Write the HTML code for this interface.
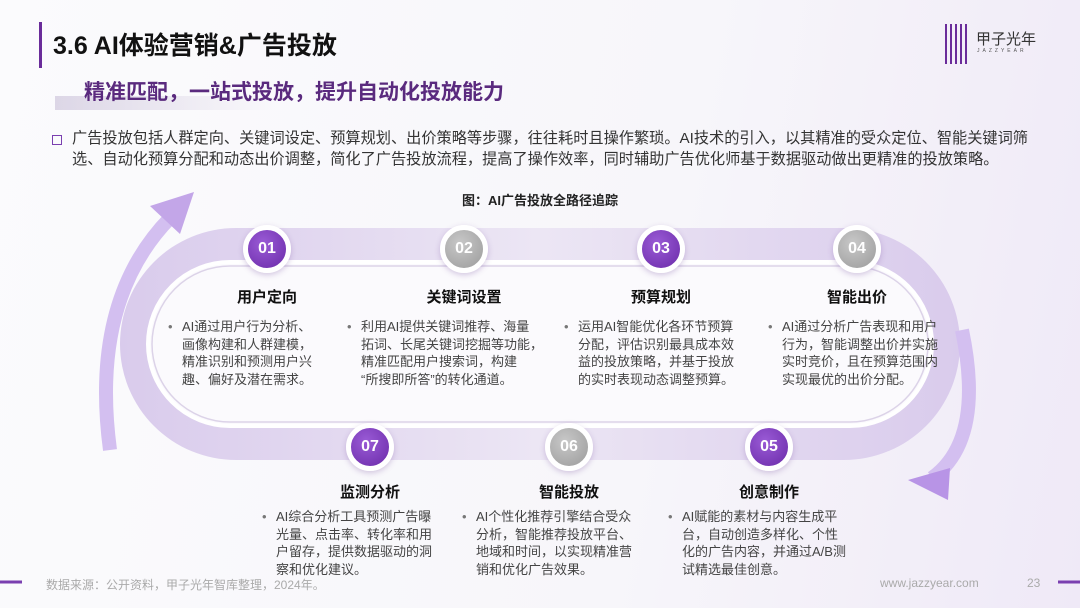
<!DOCTYPE html>
<html><head><meta charset="utf-8"><style>
body{margin:0;width:1080px;height:608px;overflow:hidden;font-family:"Liberation Sans","Noto Sans CJK SC",sans-serif;background:linear-gradient(100deg,#fbfbfd 0%,#f7f6fa 60%,#efe9f7 100%);position:relative}
.a{position:absolute}
.t{font-weight:bold;font-size:15px;color:#111;text-align:center}
.d{font-size:13px;color:#444;line-height:17.5px;white-space:nowrap}
.d:before{content:"•";position:absolute;left:-14px;color:#777}
.c{position:absolute;width:38px;height:38px;border-radius:50%;border:5px solid #fff;color:#fff;font-weight:bold;font-size:16px;text-align:center;line-height:38px;box-shadow:0 2px 6px rgba(120,80,160,.3)}
.p{background:radial-gradient(circle at 40% 35%,#9a5bd6,#6a2aa8)}
.g{background:radial-gradient(circle at 40% 35%,#c8c8c8,#9b9b9b)}
</style></head><body>
<div class="a" style="left:39px;top:22px;width:3px;height:46px;background:#6a2c9a"></div>
<div class="a" style="left:53px;top:26px;font-size:25px;font-weight:bold;color:#111">3.6 AI体验营销&amp;广告投放</div>
<div class="a" style="left:55px;top:96px;width:220px;height:14px;background:linear-gradient(90deg,rgba(200,190,215,.6),rgba(200,190,215,0))"></div>
<div class="a" style="left:84px;top:76px;font-size:21px;font-weight:bold;color:#5a2a7e">精准匹配，一站式投放，提升自动化投放能力</div>
<div class="a" style="left:945px;top:24px;width:22px;height:40px;background:repeating-linear-gradient(90deg,#6a2c9a 0 2px,transparent 2px 5px)"></div>
<div class="a" style="left:976px;top:28px;font-size:15px;color:#333">甲子光年</div>
<div class="a" style="left:977px;top:48px;font-size:5px;letter-spacing:3px;color:#555">JAZZYEAR</div>
<div class="a" style="left:52px;top:135px;width:8px;height:8px;border:1.5px solid #7a3fb0"></div>
<div class="a" style="left:72px;top:128px;font-size:15.2px;color:#333;line-height:21px;white-space:nowrap">广告投放包括人群定向、关键词设定、预算规划、出价策略等步骤，往往耗时且操作繁琐。AI技术的引入，以其精准的受众定位、智能关键词筛<br>选、自动化预算分配和动态出价调整，简化了广告投放流程，提高了操作效率，同时辅助广告优化师基于数据驱动做出更精准的投放策略。</div>
<div class="a" style="left:0;top:190px;width:1080px;text-align:center;font-size:13px;font-weight:bold;color:#222">图：AI广告投放全路径追踪</div>
<svg class="a" style="left:0;top:0" width="1080" height="608">
<defs><linearGradient id="bg" x1="0" x2="1"><stop offset="0" stop-color="#d9cbec"/><stop offset=".5" stop-color="#ece6f4"/><stop offset="1" stop-color="#d9cbec"/></linearGradient></defs>
<rect x="120" y="228" width="840" height="232" rx="116" fill="url(#bg)"/>
<rect x="148" y="262" width="784" height="164" rx="82" fill="#fbfafd" stroke="#fff" stroke-width="4"/>
<rect x="152" y="266" width="776" height="156" rx="78" fill="none" stroke="#dcd3e8" stroke-width="1.5"/>
<path d="M110 450 Q90 300 170 218" fill="none" stroke="#d3bff0" stroke-width="14"/>
<polygon points="150,206 194,192 180,234" fill="#c3a6e8"/>
<path d="M962 330 Q985 440 932 478" fill="none" stroke="#d3bff0" stroke-width="14"/>
<polygon points="908,480 950,468 948,500" fill="#b894e6"/>
<line x1="0" y1="582" x2="22" y2="582" stroke="#7a3fb0" stroke-width="3"/>
<line x1="1058" y1="582" x2="1080" y2="582" stroke="#7a3fb0" stroke-width="3"/>
</svg>
<div class="c p" style="left:243px;top:225px">01</div>
<div class="c g" style="left:440px;top:225px">02</div>
<div class="c p" style="left:637px;top:225px">03</div>
<div class="c g" style="left:833px;top:225px">04</div>
<div class="c p" style="left:346px;top:423px">07</div>
<div class="c g" style="left:545px;top:423px">06</div>
<div class="c p" style="left:745px;top:423px">05</div>
<div class="a t" style="left:187px;top:286px;width:160px">用户定向</div>
<div class="a t" style="left:384px;top:286px;width:160px">关键词设置</div>
<div class="a t" style="left:581px;top:286px;width:160px">预算规划</div>
<div class="a t" style="left:777px;top:286px;width:160px">智能出价</div>
<div class="a t" style="left:290px;top:481px;width:160px">监测分析</div>
<div class="a t" style="left:489px;top:481px;width:160px">智能投放</div>
<div class="a t" style="left:689px;top:481px;width:160px">创意制作</div>
<div class="a d" style="left:182px;top:318px">AI通过用户行为分析、<br>画像构建和人群建模，<br>精准识别和预测用户兴<br>趣、偏好及潜在需求。</div>
<div class="a d" style="left:361px;top:318px">利用AI提供关键词推荐、海量<br>拓词、长尾关键词挖掘等功能，<br>精准匹配用户搜索词，构建<br>“所搜即所答”的转化通道。</div>
<div class="a d" style="left:578px;top:318px">运用AI智能优化各环节预算<br>分配，评估识别最具成本效<br>益的投放策略，并基于投放<br>的实时表现动态调整预算。</div>
<div class="a d" style="left:782px;top:318px">AI通过分析广告表现和用户<br>行为，智能调整出价并实施<br>实时竞价，且在预算范围内<br>实现最优的出价分配。</div>
<div class="a d" style="left:276px;top:508px">AI综合分析工具预测广告曝<br>光量、点击率、转化率和用<br>户留存，提供数据驱动的洞<br>察和优化建议。</div>
<div class="a d" style="left:476px;top:508px">AI个性化推荐引擎结合受众<br>分析，智能推荐投放平台、<br>地域和时间，以实现精准营<br>销和优化广告效果。</div>
<div class="a d" style="left:682px;top:508px">AI赋能的素材与内容生成平<br>台，自动创造多样化、个性<br>化的广告内容，并通过A/B测<br>试精选最佳创意。</div>
<div class="a" style="left:46px;top:576px;font-size:12px;color:#aaa">数据来源：公开资料，甲子光年智库整理，2024年。</div>
<div class="a" style="left:880px;top:576px;font-size:12px;color:#aaa">www.jazzyear.com</div>
<div class="a" style="left:1027px;top:576px;font-size:12px;color:#aaa">23</div>
</body></html>
